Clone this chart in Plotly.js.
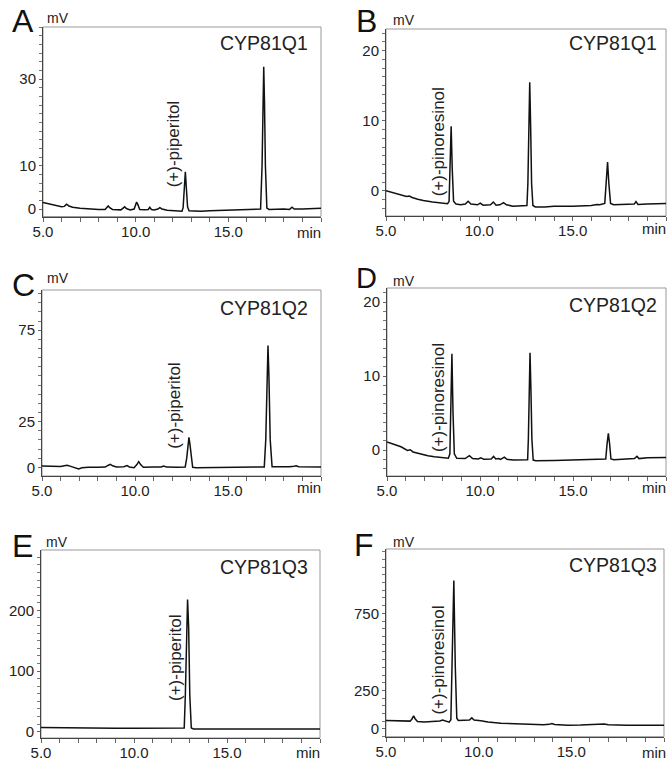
<!DOCTYPE html>
<html><head><meta charset="utf-8">
<script src="https://cdn.plot.ly/plotly-3.0.1.min.js"></script>
<style>html,body{margin:0;padding:0;background:#fff}#chart{width:668px;height:763px}</style>
</head><body><div id="chart"></div>
<script>
// ---------- data ----------
const panelLetters = ['A','B','C','D','E','F'];
const enzymeLabels = ['CYP81Q1','CYP81Q1','CYP81Q2','CYP81Q2','CYP81Q3','CYP81Q3'];
const peakLabels = ['(+)-piperitol','(+)-pinoresinol','(+)-piperitol','(+)-pinoresinol','(+)-piperitol','(+)-pinoresinol'];
const xTickVals = [5, 10, 15];
const xTickText = ['5.0', '10.0', '15.0'];
const xUnit = 'min';
const yUnit = 'mV';
const yTicksA = [0, 10, 30];
const yTicksB = [0, 10, 20];
const yTicksC = [0, 25, 75];
const yTicksD = [0, 10, 20];
const yTicksE = [0, 100, 200];
const yTicksF = [0, 250, 750];

const tA = [5.0,5.5,6.0,6.15,6.27,6.4,6.6,7.0,7.5,8.0,8.35,8.45,8.52,8.6,8.75,9.2,9.33,9.41,9.5,9.7,9.92,10.0,10.05,10.12,10.22,10.5,10.68,10.76,10.85,11.0,11.2,11.3,11.42,11.7,12.0,12.5,12.56,12.62,12.68,12.74,12.8,12.88,13.5,14.0,15.0,16.0,16.6,16.74,16.82,16.87,16.91,16.95,17.0,17.08,17.2,18.0,18.3,18.44,18.55,19.0,19.5,20.0];
const vA = [1.5,1.0,0.5,0.6,1.1,0.7,0.4,0.2,0.0,-0.1,-0.1,0.3,0.7,0.3,-0.1,-0.2,0.2,0.5,0.1,-0.2,0.0,1.0,1.6,1.0,-0.1,-0.2,-0.1,0.4,-0.1,-0.2,0.0,0.3,0.0,-0.3,-0.4,-0.5,0.3,4.5,8.6,4.5,0.5,-0.4,-0.5,-0.4,-0.3,-0.2,-0.1,0.0,10,25,32.8,25,10,0.2,-0.1,0.0,-0.1,0.4,0.0,0.0,0.1,0.2];

const tB = [5.0,5.3,5.6,5.9,6.1,6.25,6.4,6.7,7.0,7.5,8.0,8.3,8.38,8.43,8.49,8.55,8.62,8.75,9.0,9.25,9.4,9.55,9.9,10.05,10.2,10.6,10.75,10.9,11.1,11.3,11.45,11.8,12.3,12.55,12.6,12.65,12.70,12.75,12.8,12.87,13.0,13.5,14.0,15.0,16.0,16.3,16.45,16.72,16.8,16.87,16.94,17.03,17.2,18.0,18.3,18.39,18.5,19.0,19.5,20.0];
const vB = [0.0,-0.2,-0.4,-0.6,-0.8,-0.75,-0.95,-1.2,-1.4,-1.6,-1.75,-1.85,-1.5,3,9.2,3,-1.5,-1.9,-2.0,-1.9,-1.5,-1.9,-2.0,-1.75,-2.05,-2.0,-1.6,-2.05,-2.0,-1.7,-2.0,-2.2,-2.2,-2.1,1.0,9,15.5,9,1.0,-2.1,-2.3,-2.3,-2.2,-2.2,-2.1,-1.95,-2.0,-1.8,1.0,4.1,1.0,-1.8,-2.0,-2.0,-1.9,-1.55,-1.95,-1.9,-1.85,-1.8];

const tC = [5.0,5.5,6.0,6.2,6.35,6.55,6.8,6.97,7.15,7.5,8.0,8.4,8.55,8.67,8.8,9.0,9.4,9.57,9.7,9.95,10.1,10.2,10.3,10.45,11.0,11.4,11.54,11.7,12.3,12.7,12.78,12.85,12.9,12.95,13.02,13.1,13.3,14.0,15.0,16.0,16.95,17.03,17.1,17.15,17.2,17.27,17.37,17.6,18.3,18.55,18.67,18.8,19.5,20.0];
const vC = [0.7,0.6,0.5,0.9,1.1,0.5,-0.5,-0.9,-0.3,0.0,0.0,0.1,1.0,1.6,0.8,0.2,0.3,0.9,0.2,-0.2,1.5,3.1,1.5,0.0,0.1,0.2,0.7,0.1,0.0,0.2,5,13,16.4,13,5,0.0,-0.2,-0.2,-0.1,0.0,0.2,15,50,66.6,50,15,0.3,0.2,0.3,0.6,0.8,0.3,0.2,0.2];

const tD = [5.0,5.4,5.75,6.1,6.25,6.4,6.83,7.2,7.55,8.0,8.3,8.38,8.43,8.49,8.55,8.62,8.75,9.2,9.43,9.6,9.9,10.05,10.2,10.6,10.73,10.85,11.0,11.1,11.31,11.45,11.8,12.3,12.56,12.6,12.64,12.69,12.74,12.79,12.86,13.0,14.0,15.0,16.0,16.3,16.45,16.76,16.83,16.9,16.97,17.04,17.2,18.0,18.3,18.44,18.55,19.0,19.5,20.0];
const vD = [1.1,0.7,0.45,-0.05,0.05,-0.25,-0.55,-0.75,-0.9,-1.0,-1.1,-0.5,5,13.0,5,-0.5,-1.1,-1.15,-0.75,-1.15,-1.2,-1.05,-1.25,-1.2,-0.85,-1.2,-1.15,-1.25,-0.95,-1.25,-1.35,-1.35,-1.3,1.5,8,13.15,8,1.5,-1.35,-1.45,-1.4,-1.35,-1.3,-1.25,-1.3,-1.2,0.8,2.25,0.8,-1.2,-1.3,-1.2,-1.15,-0.85,-1.15,-1.05,-1.0,-1.0];

const tE = [5.0,6.0,7.0,8.0,9.0,10.0,11.0,12.0,12.6,12.7,12.76,12.82,12.88,12.94,13.0,13.08,13.2,14.0,15.0,16.0,17.0,18.0,19.0,20.0];
const vE = [7.1,6.5,6.0,5.8,5.6,5.5,5.3,5.1,5.0,6,60,170,218,170,60,6,4.5,4.4,4.4,4.4,4.4,4.4,4.4,4.4];

const tF = [5.0,5.5,6.0,6.3,6.4,6.49,6.58,6.7,7.07,7.5,7.9,8.05,8.2,8.41,8.5,8.57,8.66,8.74,8.82,8.9,9.2,9.5,9.63,9.75,10.12,10.5,11.2,12.0,12.5,13.0,13.5,13.8,13.95,14.1,14.8,15.5,16.0,16.5,16.77,17.0,17.5,18.0,19.0,20.0];
const vF = [55,53,50,51,65,85,65,48,46,48,52,58,50,44,60,400,963,400,70,55,56,58,72,58,54,46,37,33,31,29,28,30,36,29,25,26,27,29,33,27,25,25,24,24];

// ---------- layout geometry (pixels of the 668x763 page) ----------
const W = 668, H = 763;
const px = x => x / W, py = y => 1 - y / H;
const FONT = 'Arial, "Liberation Sans", sans-serif';

const panels = [
  {t:tA, v:vA, yt:yTicksA, box:[43,27,321,216.5], yr:[-1.73,42.0], ym:2, lsize:32,
   letter:[23,21], unit:[45,18], enz:[310,43], peak:[173.3,144], minR:322.7, minY:232},
  {t:tB, v:vB, yt:yTicksB, box:[386,29,666,216], yr:[-3.6,23.1], ym:1.25, lsize:32,
   letter:[366.5,21], unit:[391,20], enz:[659,42.7], peak:[438.3,142], minR:667.5, minY:228},
  {t:tC, v:vC, yt:yTicksC, box:[42,290,321,476], yr:[-4.76,97.0], ym:5, lsize:32,
   letter:[23.3,284.5], unit:[45,278], enz:[310,308.3], peak:[175,405.8], minR:322.7, minY:487},
  {t:tD, v:vD, yt:yTicksD, box:[387,288,666,476], yr:[-3.5,21.9], ym:1.25, lsize:29,
   letter:[366,278], unit:[391,281], enz:[659,305], peak:[438.3,397.8], minR:667.5, minY:487},
  {t:tE, v:vE, yt:yTicksE, box:[41,550,320,738], yr:[-10.4,299.5], ym:12.5, lsize:32,
   letter:[22.5,545.5], unit:[44,542], enz:[310,566.7], peak:[175,658], minR:321.7, minY:752},
  {t:tF, v:vF, yt:yTicksF, box:[386,549,664,736.7], yr:[-50,1167], ym:50, lsize:32,
   letter:[364,545], unit:[391,542], enz:[659,565], peak:[438.3,660.3], minR:667.5, minY:752}
];

const data = [];
const layout = {
  width: W, height: H, margin: {l:0, r:0, t:0, b:0},
  paper_bgcolor: '#fff', plot_bgcolor: '#fff', showlegend: false,
  font: {family: FONT, color: '#222'},
  annotations: [], shapes: []
};

panels.forEach((p, i) => {
  const n = i === 0 ? '' : String(i + 1);
  const xa = 'x' + n, ya = 'y' + n;
  data.push({x: p.t, y: p.v, xaxis: xa, yaxis: ya, type: 'scatter', mode: 'lines',
             line: {color: '#111', width: 1.5}, hoverinfo: 'skip'});
  const [x0, y0, x1, y1] = p.box;
  layout['xaxis' + n] = {
    domain: [px(x0), px(x1)], anchor: ya, range: [5, 20],
    tickmode: 'array', tickvals: xTickVals, ticktext: xTickText,
    ticks: 'outside', ticklen: 4, tickwidth: 1, tickcolor: '#666',
    minor: {dtick: 1, tick0: 0, ticks: 'outside', ticklen: 4, tickwidth: 1, tickcolor: '#666'},
    showline: true, linecolor: '#444', linewidth: 1,
    showgrid: false, zeroline: false, fixedrange: true,
    tickfont: {size: 15, family: FONT, color: '#222'}, ticklabelstandoff: -3
  };
  layout['yaxis' + n] = {
    domain: [py(y1), py(y0)], anchor: xa, range: p.yr,
    tickmode: 'array', tickvals: p.yt,
    ticks: 'outside', ticklen: 3, tickwidth: 1, tickcolor: '#666',
    minor: {dtick: p.ym, tick0: 0, ticks: 'outside', ticklen: 3, tickwidth: 1, tickcolor: '#777'},
    showline: true, linecolor: '#444', linewidth: 1,
    showgrid: false, zeroline: false, fixedrange: true,
    tickfont: {size: 15, family: FONT, color: '#222'}, ticklabelstandoff: 0
  };
  layout.shapes.push({type: 'rect', xref: xa + ' domain', yref: ya + ' domain',
    x0: 0, x1: 1, y0: 0, y1: 1, line: {color: '#999', width: 1}, layer: 'below'});
  layout.annotations.push({text: panelLetters[i], xref: 'paper', yref: 'paper',
    x: px(p.letter[0]), y: py(p.letter[1]), xanchor: 'center', yanchor: 'middle',
    showarrow: false, font: {size: p.lsize, family: FONT, color: '#111'}});
  layout.annotations.push({text: yUnit, xref: 'paper', yref: 'paper',
    x: px(p.unit[0]), y: py(p.unit[1]), xanchor: 'left', yanchor: 'middle',
    showarrow: false, font: {size: 14, family: FONT, color: '#222'}});
  layout.annotations.push({text: enzymeLabels[i], xref: 'paper', yref: 'paper',
    x: px(p.enz[0]), y: py(p.enz[1]), xanchor: 'right', yanchor: 'middle',
    showarrow: false, font: {size: 19.5, family: FONT, color: '#222'}});
  layout.annotations.push({text: peakLabels[i], xref: 'paper', yref: 'paper', textangle: -90,
    x: px(p.peak[0]), y: py(p.peak[1]), xanchor: 'center', yanchor: 'middle',
    showarrow: false, font: {size: 17, family: FONT, color: '#222'}});
  layout.annotations.push({text: xUnit, xref: 'paper', yref: 'paper',
    x: px(p.minR), y: py(p.minY), xanchor: 'right', yanchor: 'middle',
    showarrow: false, font: {size: 15, family: FONT, color: '#222'}});
});

Plotly.newPlot('chart', data, layout, {displayModeBar: false, staticPlot: true});
</script></body></html>
